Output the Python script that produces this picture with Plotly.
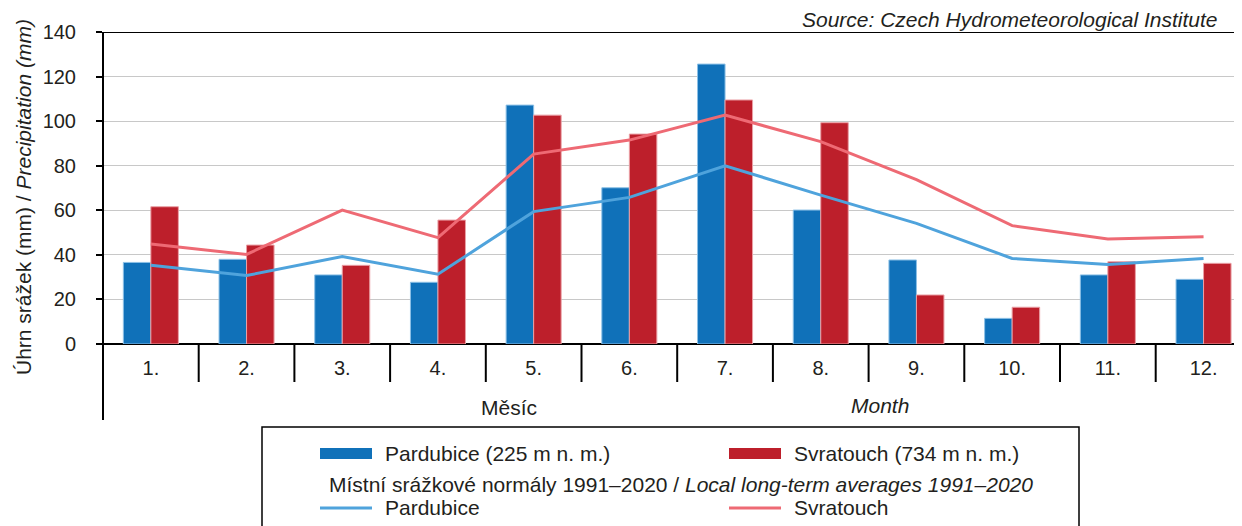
import plotly.graph_objects as go

FONT = "Liberation Sans, Arial, sans-serif"
TXT = "#231f20"

months = ["1.", "2.", "3.", "4.", "5.", "6.", "7.", "8.", "9.", "10.", "11.", "12."]
pardubice = [36.6, 38.0, 31.0, 27.7, 107.2, 70.1, 125.6, 60.1, 37.7, 11.5, 31.0, 29.0]
svratouch = [61.6, 44.4, 35.3, 55.6, 102.7, 94.2, 109.5, 99.3, 22.0, 16.5, 36.9, 36.2]
norm_pardubice = [35.3, 30.7, 39.3, 31.3, 59.4, 65.8, 80.0, 66.8, 54.1, 38.4, 35.7, 38.4]
norm_svratouch = [44.9, 40.2, 60.1, 47.7, 85.2, 91.5, 102.7, 90.8, 73.8, 53.1, 47.1, 48.1]
y_ticks = [0, 20, 40, 60, 80, 100, 120, 140]

C_BLUE = "#1071b9"
C_RED = "#bd1f2b"
C_LBLUE = "#4fa3dc"
C_LRED = "#ee6a74"

# page offset of the plotly div (default body margin)
OFF = 8
# plot area in page pixels
L, R, T, B = 103, 1242, 32, 344
W, H = 1242 - OFF, 526 - OFF


def px(x):
    return (x - L) / (R - L)


def py(y):
    return (B - y) / (B - T)


fig = go.Figure()
fig.add_trace(go.Bar(x=months, y=pardubice, name="Pardubice (225 m n. m.)",
                     marker=dict(color=C_BLUE, line=dict(color="#8cc0e6", width=1))))
fig.add_trace(go.Bar(x=months, y=svratouch, name="Svratouch (734 m n. m.)",
                     marker=dict(color=C_RED, line=dict(color="#eaa0a6", width=1))))
fig.add_trace(go.Scatter(x=months, y=norm_pardubice, mode="lines", name="Pardubice",
                         line=dict(color=C_LBLUE, width=3)))
fig.add_trace(go.Scatter(x=months, y=norm_svratouch, mode="lines", name="Svratouch",
                         line=dict(color=C_LRED, width=3)))

shapes = []
# category dividers below the axis
for i in range(len(months)):
    shapes.append(dict(type="line", xref="x", yref="paper", x0=i + 0.5, x1=i + 0.5,
                       y0=0, y1=py(382), line=dict(color="black", width=2)))
# long y axis line
shapes.append(dict(type="line", xref="paper", yref="paper", x0=0, x1=0,
                   y0=py(420), y1=1, line=dict(color="black", width=2)))
# top line at 140
shapes.append(dict(type="line", xref="paper", yref="y", x0=px(97), x1=1,
                   y0=140, y1=140, line=dict(color="black", width=2)))
# legend box
shapes.append(dict(type="rect", xref="paper", yref="paper", x0=px(262), x1=px(1079),
                   y0=py(540), y1=py(427), line=dict(color="black", width=1.5)))
# legend swatches
shapes.append(dict(type="rect", xref="paper", yref="paper", x0=px(320), x1=px(372),
                   y0=py(459), y1=py(448), fillcolor=C_BLUE, line=dict(width=0)))
shapes.append(dict(type="rect", xref="paper", yref="paper", x0=px(729), x1=px(781),
                   y0=py(459), y1=py(448), fillcolor=C_RED, line=dict(width=0)))
shapes.append(dict(type="line", xref="paper", yref="paper", x0=px(320), x1=px(372),
                   y0=py(508), y1=py(508), line=dict(color=C_LBLUE, width=3)))
shapes.append(dict(type="line", xref="paper", yref="paper", x0=px(729), x1=px(781),
                   y0=py(508), y1=py(508), line=dict(color=C_LRED, width=3)))

ann = []


def label(text, x, y, size=21, xanchor="left", **kw):
    ann.append(dict(text=text, xref="paper", yref="paper", x=px(x), y=py(y),
                    xanchor=xanchor, yanchor="middle", showarrow=False,
                    font=dict(family=FONT, size=size, color=TXT), **kw))


label("<i>Source: Czech Hydrometeorological Institute</i>", 1220, 20, xanchor="right")
label("Úhrn srážek (mm) / <i>Precipitation (mm)</i>", 23, 197, size=21,
      xanchor="center", textangle=-90)
label("Měsíc", 509, 407, xanchor="center")
label("<i>Month</i>", 880, 405, xanchor="center")
label("Pardubice (225 m n. m.)", 383, 453)
label("Svratouch (734 m n. m.)", 792, 453)
label("Místní srážkové normály 1991–2020 / <i>Local long-term averages 1991–2020</i>",
      681, 484, xanchor="center")
label("Pardubice", 383, 507)
label("Svratouch", 792, 507)

fig.update_layout(
    width=W, height=H,
    margin=dict(l=L - OFF, r=0, t=T - OFF, b=H - (B - OFF)),
    paper_bgcolor="white", plot_bgcolor="white",
    barmode="group", bargap=0.425, bargroupgap=0,
    showlegend=False,
    shapes=shapes, annotations=ann,
    font=dict(family=FONT, size=19, color=TXT),
    xaxis=dict(range=[-0.5, -0.5 + (R - L) / 95.7], showgrid=False, ticks="",
               showline=False, zeroline=False, ticklabelstandoff=10,
               tickfont=dict(size=20)),
    yaxis=dict(range=[0, 140], tickvals=y_ticks, showgrid=True, gridcolor="#c8c8c8",
               gridwidth=1, zeroline=True, zerolinecolor="black", zerolinewidth=2,
               showline=False, ticks="outside", ticklen=6, tickwidth=2, tickcolor="black",
               ticklabelstandoff=16, tickfont=dict(size=20)),
)

fig.write_html("out.html")
